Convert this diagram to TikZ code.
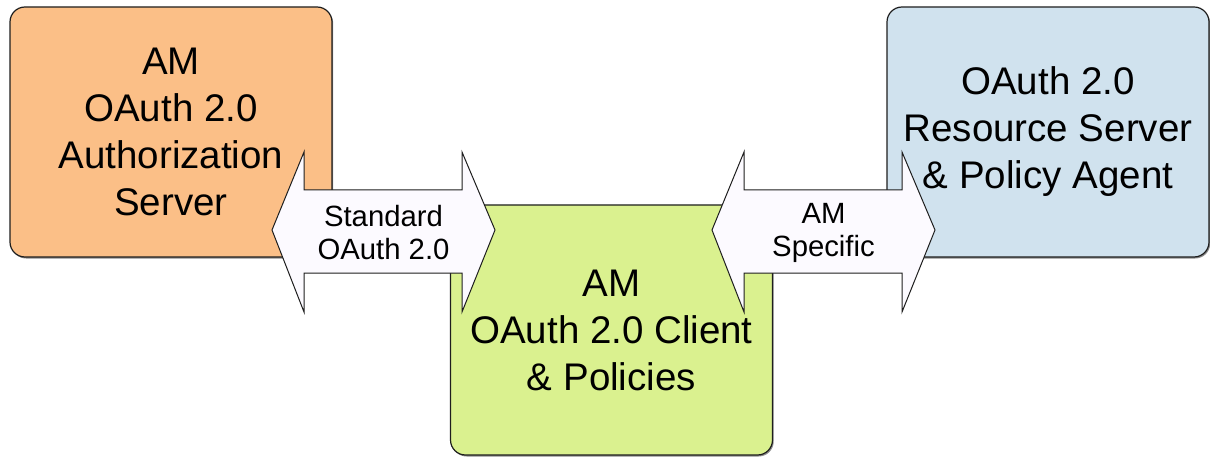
\documentclass[tikz,border=0pt]{standalone}
\usepackage{fontspec}
\setmainfont{Liberation Sans}
\usetikzlibrary{shadows}
\definecolor{boxorange}{RGB}{251,191,135}
\definecolor{boxgreen}{RGB}{218,241,143}
\definecolor{boxblue}{RGB}{208,226,238}
\definecolor{arrowfill}{RGB}{252,250,255}
\definecolor{edge}{RGB}{30,30,30}
\tikzset{
  box/.style={draw=edge, line width=1.2pt, rounded corners=15pt, align=center,
    minimum width=322pt, minimum height=250pt, inner sep=0pt,
    font=\fontsize{38.5}{47}\selectfont,
    drop shadow={shadow xshift=1.2pt, shadow yshift=-1.5pt, opacity=0.45, fill=black}},
  fatarrow/.style={draw=edge, line width=1pt, fill=arrowfill, line join=miter},
  arrowtext/.style={align=center, inner sep=0pt, font=\fontsize{29.3}{33}\selectfont}
}
\begin{document}
\begin{tikzpicture}[x=1pt,y=-1pt]
\useasboundingbox (0,0) rectangle (1210,457);
\node[box, fill=boxorange] (as) at (171,132) {AM\\OAuth 2.0\\Authorization\\Server};
\node[box, fill=boxblue] (rs) at (1048,132) {OAuth 2.0\\Resource Server\\\& Policy Agent};
\node[box, fill=boxgreen] (cl) at (611.5,330) {AM\\OAuth 2.0 Client\\\& Policies};
% left double arrow
\draw[fatarrow] (272,230) -- (304,152) -- (304,190) -- (462,190) -- (462,152) -- (495,230)
  -- (462,312) -- (462,273) -- (304,273) -- (304,312) -- cycle;
\node[arrowtext] (std) at (383.5,233) {Standard\\OAuth 2.0};
% right double arrow
\draw[fatarrow] (712,230) -- (744,152) -- (744,190) -- (902,190) -- (902,152) -- (935,230)
  -- (902,312) -- (902,273) -- (744,273) -- (744,312) -- cycle;
\node[arrowtext] (spec) at (823.5,233) {AM\\Specific};
\end{tikzpicture}
\end{document}
